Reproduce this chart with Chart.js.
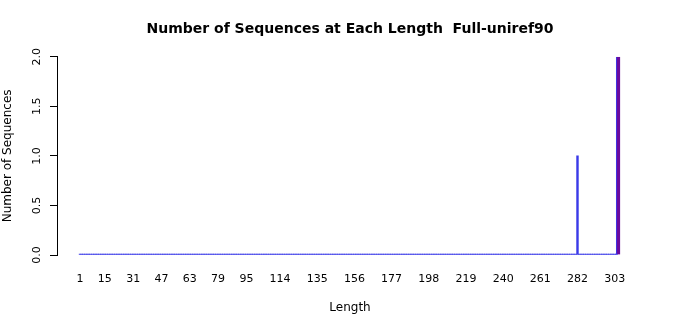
<!DOCTYPE html>
<html>
<head>
<meta charset="utf-8">
<script src="https://cdn.jsdelivr.net/npm/chart.js@4"></script>
<style>
  body { margin: 0; background: #fff; }
  #wrap { width: 700px; height: 315px; }
</style>
</head>
<body>
<div id="wrap"><canvas id="lenChart" width="700" height="315"></canvas></div>
<script>
// longitudes observadas (solo las que tienen secuencias)
const seqLengths = [282, 305];
const seqCounts = [1, 2];
// longitud de la secuencia consulta (barra resaltada)
const queryLength = 305;
const minLength = 1;
const maxLength = 305;

const xTickValues = [1, 15, 31, 47, 63, 79, 95, 114, 135, 156, 177, 198, 219, 240, 261, 282, 303];
const yTickValues = [0, 0.5, 1, 1.5, 2];

// tabla completa: una barra por longitud, cero donde no hay secuencias
const allBars = [];
for (let len = minLength; len <= maxLength; len++) {
  const i = seqLengths.indexOf(len);
  const n = i >= 0 ? seqCounts[i] : 0;
  allBars.push({ x: len, y: len === queryLength ? null : n });
}
const queryBar = [{ x: queryLength, y: seqCounts[seqLengths.indexOf(queryLength)] }];

Chart.defaults.font.family = "'DejaVu Sans', sans-serif";
Chart.defaults.color = '#000';

const ctx = document.getElementById('lenChart').getContext('2d');
new Chart(ctx, {
  type: 'bar',
  data: {
    datasets: [{
      data: allBars,
      backgroundColor: '#3a3ae8',
      borderWidth: 0,
      barPercentage: 1,
      categoryPercentage: 1,
      minBarLength: 1
    }, {
      data: queryBar,
      backgroundColor: '#6a0a9e',
      borderColor: '#3a3ae8',
      borderWidth: { left: 1, right: 0, top: 0, bottom: 0 },
      borderSkipped: false,
      barThickness: 4
    }]
  },
  options: {
    responsive: false,
    animation: false,
    layout: { padding: 0 },
    plugins: {
      legend: { display: false },
      tooltip: { enabled: false },
      title: {
        display: true,
        text: 'Number of Sequences at Each Length  Full-uniref90',
        font: { size: 14, weight: 'bold' },
        padding: { top: 21, bottom: 19 }
      },
      // título del eje X centrado en todo el lienzo (como en R)
      subtitle: {
        display: true,
        position: 'bottom',
        text: 'Length',
        font: { size: 12, weight: 'normal' },
        color: '#000',
        padding: { top: 0, bottom: 0 }
      }
    },
    scales: {
      x: {
        type: 'linear',
        stacked: true,
        offset: false,
        min: -12,
        max: 351.2,
        grid: { display: false },
        border: { display: false },
        afterBuildTicks: (scale) => {
          scale.ticks = xTickValues.map(v => ({ value: v }));
        },
        afterFit: (scale) => { scale.height = 45.6; },
        ticks: {
          autoSkip: false,
          maxRotation: 0,
          padding: 10,
          font: { size: 11 },
          callback: (v) => String(v)
        }
      },
      y: {
        stacked: false,
        min: 0,
        max: 2,
        grid: { display: true, drawOnChartArea: false, drawTicks: true, tickLength: 7, color: '#000' },
        border: { display: true, color: '#000' },
        afterBuildTicks: (scale) => {
          scale.ticks = yTickValues.map(v => ({ value: v }));
        },
        afterFit: (scale) => { scale.width = 57; },
        ticks: {
          minRotation: 90,
          maxRotation: 90,
          crossAlign: 'center',
          padding: 4,
          font: { size: 11 },
          callback: (v) => v.toFixed(1)
        },
        title: {
          display: true,
          text: 'Number of Sequences',
          font: { size: 12 },
          padding: { top: 1, bottom: 0 }
        }
      }
    }
  }
});
</script>
</body>
</html>
